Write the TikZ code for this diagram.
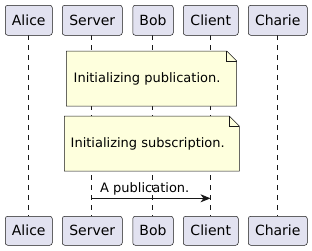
\documentclass[tikz,border=0pt]{standalone}
\usepackage{fontspec}
\setmainfont{DejaVu Sans}
\usetikzlibrary{arrows.meta}
\definecolor{partfill}{HTML}{E2E2F0}
\definecolor{linecol}{HTML}{181818}
\definecolor{notefill}{HTML}{FEFFDD}
\begin{document}
\begin{tikzpicture}[x=1pt,y=-1pt,
  part/.style={draw=linecol,fill=partfill,line width=0.5pt,rounded corners=2.5pt,
    inner sep=0pt,anchor=north west,font=\fontsize{14}{16}\selectfont},
  life/.style={draw=linecol,line width=0.5pt,dash pattern=on 5pt off 5pt},
  notetext/.style={anchor=west,inner sep=0pt,font=\fontsize{13}{15}\selectfont},
  notebox/.style={draw=linecol,fill=notefill,line width=0.5pt},
  msg/.style={draw=linecol,line width=0.75pt,-{Stealth[length=10pt,width=8pt,inset=3pt]}},
  msglabel/.style={inner sep=0pt,font=\fontsize{13}{15}\selectfont}]
\useasboundingbox (0,0) rectangle (312,250);
% lifelines
\foreach \n/\x in {alice/28.5,server/91.5,bob/152.7,client/210.5,charie/277.5}{
  \coordinate (\n t) at (\x,35);
  \coordinate (\n b) at (\x,216);
  \draw[life] (\n t) -- (\n b);
}
% participants top
\node[part,minimum width=47pt,minimum height=30pt] (aliceT) at (5,5) {Alice};
\node[part,minimum width=60pt,minimum height=30pt] (serverT) at (62,5) {Server};
\node[part,minimum width=40.5pt,minimum height=30pt] (bobT) at (132.5,5) {Bob};
\node[part,minimum width=55pt,minimum height=30pt] (clientT) at (183,5) {Client};
\node[part,minimum width=59pt,minimum height=30pt] (charieT) at (248,5) {Charie};
% participants bottom
\node[part,minimum width=47pt,minimum height=29pt] (aliceB) at (5,216) {Alice};
\node[part,minimum width=60pt,minimum height=29pt] (serverB) at (62,216) {Server};
\node[part,minimum width=40.5pt,minimum height=29pt] (bobB) at (132.5,216) {Bob};
\node[part,minimum width=55pt,minimum height=29pt] (clientB) at (183,216) {Client};
\node[part,minimum width=59pt,minimum height=29pt] (charieB) at (248,216) {Charie};
% note 1
\draw[notebox] (66.3,51) -- (226.7,51) -- (236.7,61) -- (236.7,106) -- (66.3,106) -- cycle;
\draw[linecol,line width=0.5pt] (226.7,51) -- (226.7,61) -- (236.7,61);
\node[notetext] (note1) at (73.5,78.5) {Initializing publication.};
% note 2
\draw[notebox] (64.3,116) -- (229.3,116) -- (239.3,126) -- (239.3,171) -- (64.3,171) -- cycle;
\draw[linecol,line width=0.5pt] (229.3,116) -- (229.3,126) -- (239.3,126);
\node[notetext] (note2) at (70.5,144) {Initializing subscription.};
% message
\coordinate (m1) at (91.5,198.3);
\coordinate (m2) at (210.5,198.3);
\draw[msg] (m1) -- (m2);
\node[msglabel,anchor=west] (mlab) at (100,189) {A publication.};
\end{tikzpicture}
\end{document}
